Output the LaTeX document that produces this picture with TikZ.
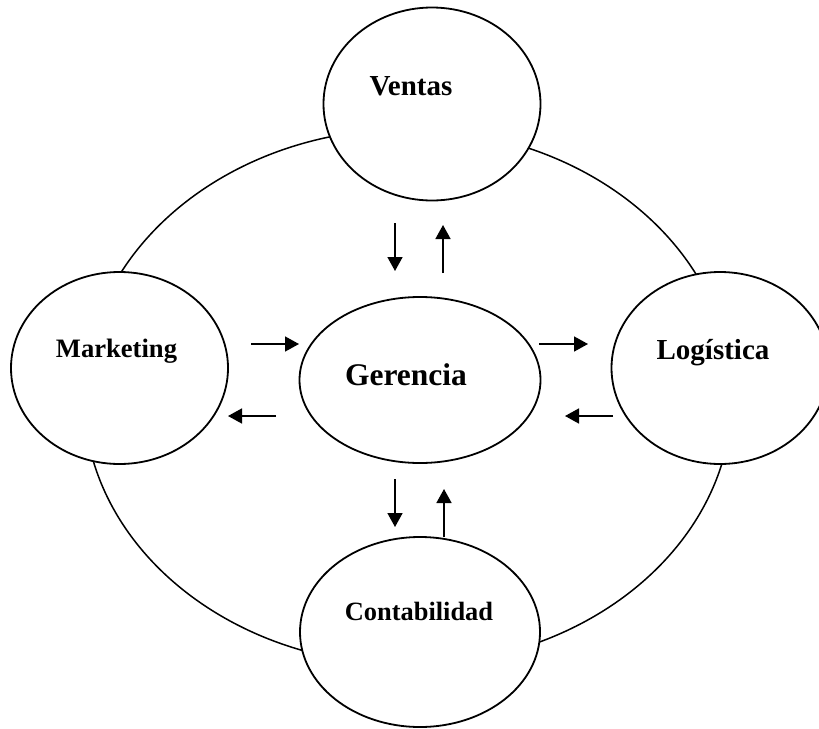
\documentclass[tikz,border=0pt]{standalone}
\usepackage{fontspec}
\setmainfont{Liberation Serif}
\usetikzlibrary{shapes.geometric,arrows.meta}

\newcommand*{\picw}{819}
\newcommand*{\pich}{728}

\begin{document}
\begin{tikzpicture}
[
	x=1pt, y=-1pt,
	area/.style={ellipse,draw,fill=white,line width=1.8pt,inner sep=0pt},
	areatxt/.style={anchor=base,inner sep=0pt,font=\bfseries\fontsize{29}{34}\selectfont},
	flow/.style={line width=1.6pt,-{Triangle[length=14pt,width=15pt]}}
]
	\useasboundingbox (0,0) rectangle (\picw,\pich);

	% outer ring
	\draw[line width=1.5pt] (408,397) ellipse [x radius=324pt, y radius=268pt];

	% areas
	\node[area,minimum width=217pt,minimum height=193pt] at (432,104) (ventas) {};
	\node[area,minimum width=217pt,minimum height=192pt] at (119.5,368) (marketing) {};
	\node[area,minimum width=217pt,minimum height=192pt] at (720,368) (logistica) {};
	\node[area,minimum width=241pt,minimum height=166pt] at (420,380) (gerencia) {};
	\node[area,minimum width=240pt,minimum height=190pt] at (420,632) (contabilidad) {};

	% labels
	\node[areatxt] at (411,95) (ventastxt) {Ventas};
	\node[areatxt,font=\bfseries\fontsize{26.6}{32}\selectfont] at (116.5,357) (marketingtxt) {Marketing};
	\node[areatxt] at (713,359) (logisticatxt) {Logística};
	\node[areatxt,font=\bfseries\fontsize{31.5}{38}\selectfont] at (406,385) (gerenciatxt) {Gerencia};
	\node[areatxt,font=\bfseries\fontsize{26.4}{32}\selectfont] at (419,620) (contabilidadtxt) {Contabilidad};

	% arrow ends
	\coordinate (vg1) at (395,223);
	\coordinate (vg2) at (395,271);
	\coordinate (gv1) at (443,273);
	\coordinate (gv2) at (443,225);
	\coordinate (mg1) at (251,344);
	\coordinate (mg2) at (299,344);
	\coordinate (gl1) at (539,344);
	\coordinate (gl2) at (588,344);
	\coordinate (gm1) at (276,416);
	\coordinate (gm2) at (228,416);
	\coordinate (lg1) at (613,416);
	\coordinate (lg2) at (565,416);
	\coordinate (gc1) at (395,479);
	\coordinate (gc2) at (395,527);
	\coordinate (cg1) at (444,537);
	\coordinate (cg2) at (444,489);

	% arrows
	\draw[flow] (vg1) -- (vg2);
	\draw[flow] (gv1) -- (gv2);
	\draw[flow] (mg1) -- (mg2);
	\draw[flow] (gl1) -- (gl2);
	\draw[flow] (gm1) -- (gm2);
	\draw[flow] (lg1) -- (lg2);
	\draw[flow] (gc1) -- (gc2);
	\draw[flow] (cg1) -- (cg2);

\end{tikzpicture}
\end{document}
